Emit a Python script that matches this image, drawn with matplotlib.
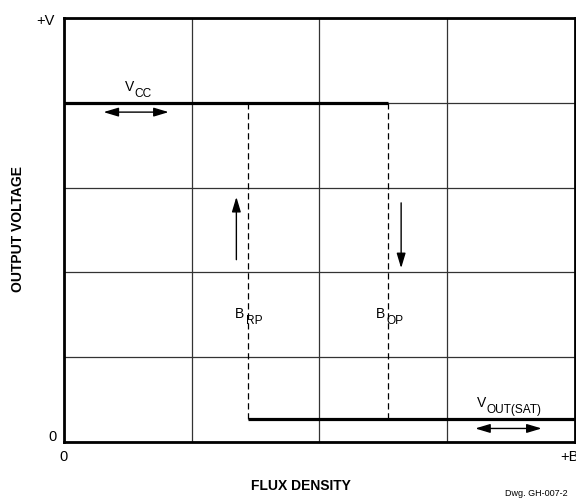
import matplotlib.pyplot as plt
from matplotlib.ticker import MultipleLocator

plt.rcParams['font.family'] = ['Liberation Sans', 'DejaVu Sans']

# output levels (grid units: x 0..4, y 0..5)
v_cc = 4.0
v_sat = 0.27
b_rp = 1.44
b_op = 2.54
x_max = 4.0
y_max = 5.0

fig = plt.figure(figsize=(5.76, 4.98), dpi=100)
ax = fig.add_axes([0.111, 0.1124, 0.887, 0.8515])
ax.set_xlim(0, x_max)
ax.set_ylim(0, y_max)

ax.xaxis.set_major_locator(MultipleLocator(1))
ax.yaxis.set_major_locator(MultipleLocator(1))
ax.grid(True, color='#333333', linewidth=0.9)
ax.tick_params(length=0, labelbottom=False, labelleft=False)
for s in ax.spines.values():
    s.set_linewidth(2.0)

# hysteresis curve
ax.plot([0, b_op], [v_cc, v_cc], color='black', lw=2.3, solid_capstyle='butt', zorder=3)
ax.plot([b_rp, x_max], [v_sat, v_sat], color='black', lw=2.3, solid_capstyle='butt', zorder=3)
ax.plot([b_rp, b_rp], [v_sat, v_cc], color='black', lw=0.9, ls=(0, (5, 3)), zorder=3)
ax.plot([b_op, b_op], [v_sat, v_cc], color='black', lw=0.9, ls=(0, (5, 3)), zorder=3)

arr = dict(arrowstyle='-|>,head_length=0.9,head_width=0.27', color='black', lw=1.0,
           mutation_scale=10, shrinkA=0, shrinkB=0)
ax.annotate('', xy=(1.35, 2.89), xytext=(1.35, 2.15), arrowprops=arr)
ax.annotate('', xy=(2.64, 2.05), xytext=(2.64, 2.82), arrowprops=arr)
darr = dict(arrowstyle='<|-|>,head_length=0.9,head_width=0.27', color='black', lw=1.0,
            mutation_scale=10, shrinkA=0, shrinkB=0)
ax.annotate('', xy=(0.31, 3.89), xytext=(0.82, 3.89), arrowprops=darr)
ax.annotate('', xy=(3.22, 0.16), xytext=(3.74, 0.16), arrowprops=darr)


def sub_label(x, y, main, sub, dx, dy=-4.2):
    ax.text(x, y, main, fontsize=10, ha='left', va='baseline')
    ax.annotate(sub, xy=(x, y), xytext=(dx, dy), textcoords='offset points',
                fontsize=8.6, ha='left', va='baseline')


sub_label(0.477, 4.14, 'V', 'CC', 7.0)
sub_label(1.34, 1.46, 'B', 'RP', 7.6)
sub_label(2.44, 1.46, 'B', 'OP', 7.6)
sub_label(3.23, 0.41, 'V', 'OUT(SAT)', 7.0)

# axis end labels
ax.text(-0.07, 4.97, '+V', fontsize=10.5, ha='right', va='center')
ax.text(-0.055, 0.06, '0', fontsize=10.5, ha='right', va='center')
ax.text(0.0, -0.18, '0', fontsize=10.5, ha='center', va='center')
ax.text(3.96, -0.18, '+B', fontsize=10.5, ha='center', va='center')

fig.text(0.032, 0.54, 'OUTPUT VOLTAGE', rotation=90, fontsize=10, fontweight='bold',
         ha='center', va='center')
fig.text(0.523, 0.024, 'FLUX DENSITY', fontsize=10, fontweight='bold', ha='center', va='center')
fig.text(0.877, 0.01, 'Dwg. GH-007-2', fontsize=6.5, ha='left', va='center')

fig.savefig('out.png', dpi=100)
